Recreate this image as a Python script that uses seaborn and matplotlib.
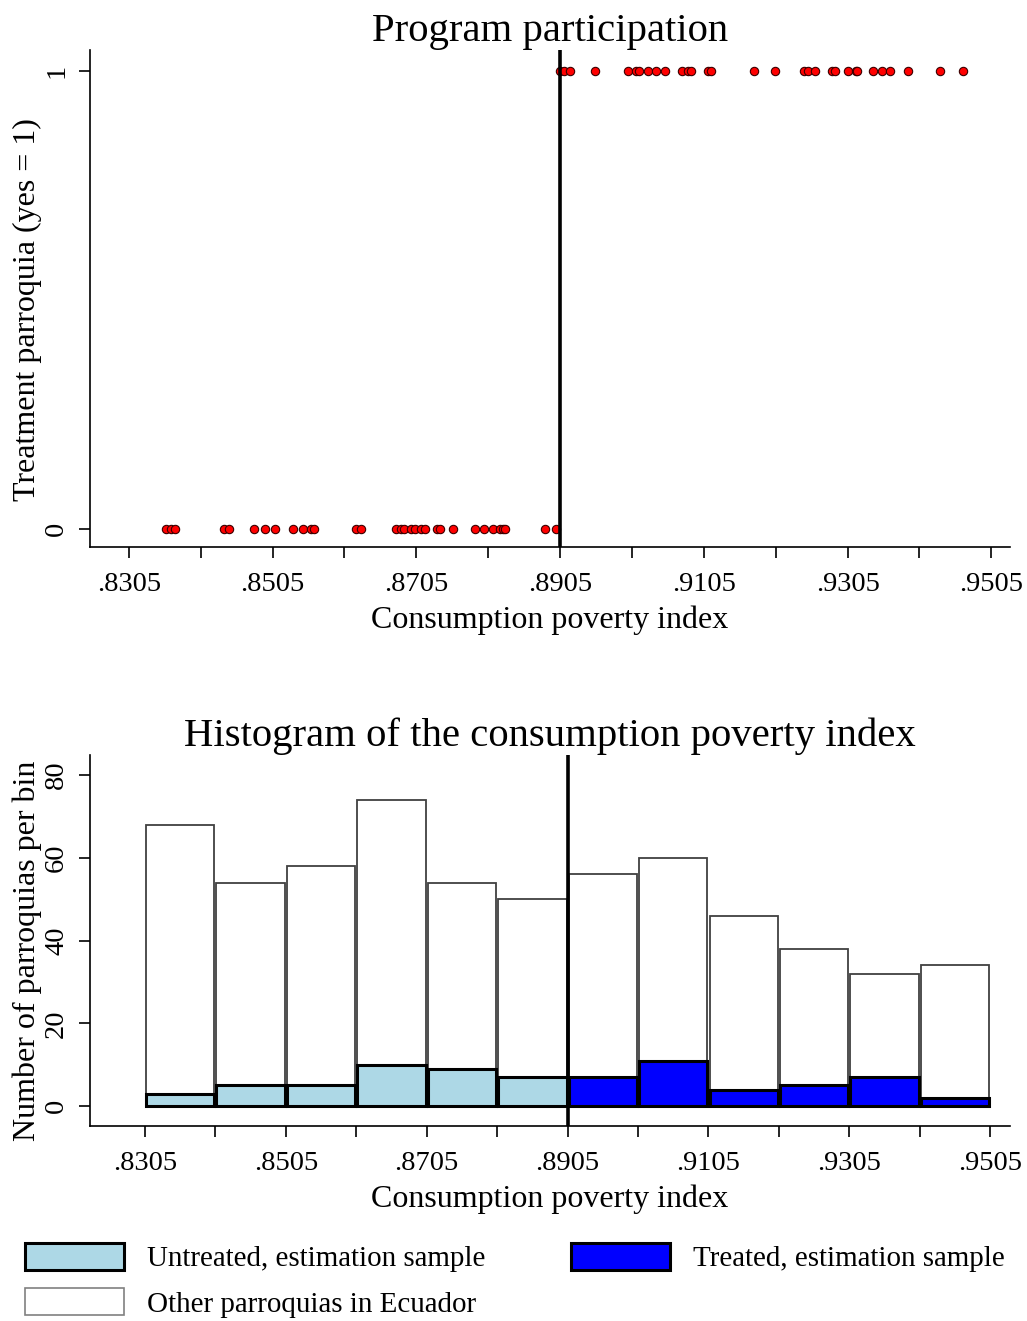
import matplotlib
matplotlib.use("Agg")
import matplotlib.pyplot as plt
import seaborn as sns
import numpy as np
import pandas as pd
from matplotlib.patches import Patch

# ---------------- data ----------------
untreated_index = [0.8357, 0.8363, 0.8369, 0.8438, 0.8444, 0.8479, 0.8494, 0.8509,
                   0.8533, 0.8548, 0.8558, 0.8562, 0.8621, 0.8628, 0.8677, 0.8683,
                   0.8688, 0.8697, 0.8703, 0.8712, 0.8717, 0.8734, 0.8738, 0.8756,
                   0.8787, 0.8799, 0.8811, 0.8821, 0.8826, 0.8828, 0.8884, 0.8900]
treated_index = [0.8905, 0.8910, 0.8919, 0.8954, 0.8999, 0.9010, 0.9015, 0.9027,
                 0.9038, 0.9051, 0.9075, 0.9083, 0.9087, 0.9111, 0.9115, 0.9175,
                 0.9204, 0.9245, 0.9250, 0.9260, 0.9283, 0.9288, 0.9305, 0.9317,
                 0.9318, 0.9341, 0.9353, 0.9364, 0.9389, 0.9434, 0.9466]

bin_edges = [0.8305, 0.8405, 0.8505, 0.8605, 0.8705, 0.8805, 0.8905,
             0.9005, 0.9105, 0.9205, 0.9305, 0.9405, 0.9505]
all_counts = [68, 54, 58, 74, 54, 50, 56, 60, 46, 38, 32, 34]
untreated_counts = [3, 5, 5, 10, 9, 7]
treated_counts = [7, 11, 4, 5, 7, 2]

cutoff = 0.8905
major_ticks = [0.8305, 0.8505, 0.8705, 0.8905, 0.9105, 0.9305, 0.9505]
major_labels = [".8305", ".8505", ".8705", ".8905", ".9105", ".9305", ".9505"]
minor_ticks = [0.8405, 0.8605, 0.8805, 0.9005, 0.9205, 0.9405]

# ---------------- style ----------------
sns.set_style("white")
plt.rcParams['font.family'] = ['Liberation Serif', 'DejaVu Serif']
plt.rcParams['axes.edgecolor'] = 'black'
plt.rcParams['axes.linewidth'] = 1.2
for k in ['text.color', 'axes.labelcolor', 'xtick.color', 'ytick.color']:
    plt.rcParams[k] = 'black'

TITLE = 29.3
LABEL = 23
TICK = 20.5

fig = plt.figure(figsize=(10.27, 13.21), dpi=100)
ax1 = fig.add_axes([90/1027, 1-547/1321, 920/1027, 497/1321])
ax2 = fig.add_axes([90/1027, 1-1126/1321, 920/1027, 371/1321])

# ---------------- top: scatter ----------------
scat = pd.DataFrame({
    "index": untreated_index + treated_index,
    "treat": [0]*len(untreated_index) + [1]*len(treated_index),
})
sns.scatterplot(data=scat, x="index", y="treat", ax=ax1, color="#ff0000",
                edgecolor="#3a0000", linewidth=0.8, s=36, zorder=3, legend=False)
ax1.axvline(cutoff, color="black", lw=2.6, zorder=4)
ax1.set_xlim(0.8251, 0.9531)
ax1.set_ylim(-0.039, 1.046)
ax1.set_yticks([0, 1])
ax1.set_yticklabels(["0", "1"], rotation=90, va="center")
ax1.set_title("Program participation", fontsize=TITLE, pad=6)
ax1.set_ylabel("Treatment parroquia (yes = 1)", fontsize=LABEL)
ax1.yaxis.set_label_coords(-0.052, 0.477)

# ---------------- bottom: histogram ----------------
centers = [(a + b) / 2 for a, b in zip(bin_edges[:-1], bin_edges[1:])]
sns.histplot(x=centers, weights=all_counts, bins=bin_edges, ax=ax2,
             color="white", edgecolor="#404040", linewidth=1.3, alpha=1,
             shrink=0.97, zorder=1)
sns.histplot(x=centers[:6], weights=untreated_counts, bins=bin_edges[:7], ax=ax2,
             color="#add8e6", edgecolor="black", linewidth=2.2, alpha=1,
             shrink=0.97, zorder=2)
sns.histplot(x=centers[6:], weights=treated_counts, bins=bin_edges[6:], ax=ax2,
             color="#0000ff", edgecolor="black", linewidth=2.2, alpha=1,
             shrink=0.97, zorder=2)
ax2.axvline(cutoff, color="black", lw=2.6, zorder=4)
ax2.set_xlim(0.8227, 0.9533)
ax2.set_ylim(-4.8, 84.8)
ax2.set_yticks([0, 20, 40, 60, 80])
ax2.set_yticklabels(["0", "20", "40", "60", "80"], rotation=90, va="center")
ax2.set_title("Histogram of the consumption poverty index", fontsize=TITLE, pad=6)
ax2.set_ylabel("Number of parroquias per bin", fontsize=LABEL)
ax2.yaxis.set_label_coords(-0.052, 0.473)

for ax in (ax1, ax2):
    ax.set_xticks(major_ticks)
    ax.set_xticklabels(major_labels)
    ax.set_xticks(minor_ticks, minor=True)
    ax.set_xlabel("Consumption poverty index", fontsize=LABEL, labelpad=6)
    ax.tick_params(axis="both", which="both", direction="out", length=8,
                   width=1.2, color="black", bottom=True, left=True,
                   labelsize=TICK, labelcolor="black")
    ax.tick_params(axis="x", which="both", pad=10)
    ax.tick_params(axis="y", which="both", pad=7)
    sns.despine(ax=ax, top=True, right=True)
    ax.grid(False)

# ---------------- legend ----------------
handles = [
    Patch(facecolor="#add8e6", edgecolor="black", linewidth=2.2),
    Patch(facecolor="white", edgecolor="#808080", linewidth=1.2),
    Patch(facecolor="#0000ff", edgecolor="black", linewidth=2.2),
]
labels = ["Untreated, estimation sample", "Other parroquias in Ecuador",
          "Treated, estimation sample"]
fig.legend(handles, labels, loc="upper left", bbox_to_anchor=(25/1027, 1-1243/1321),
           ncol=2, frameon=False, fontsize=20.9, handlelength=3.4, handleheight=1.05,
           handletextpad=0.8, columnspacing=2.95, labelspacing=0.55,
           borderpad=0, borderaxespad=0)

fig.savefig("out.png", dpi=100)
